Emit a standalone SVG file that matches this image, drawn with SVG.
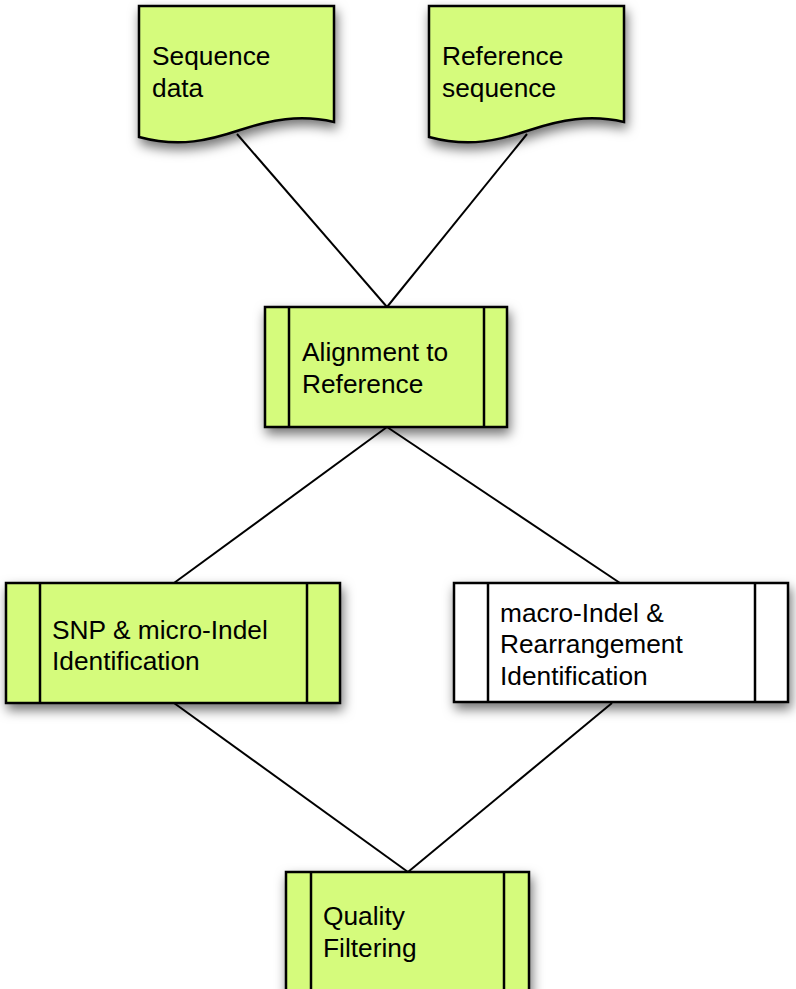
<svg xmlns="http://www.w3.org/2000/svg" width="796" height="989" viewBox="0 0 796 989">
<defs>
<filter id="sh" x="-20%" y="-20%" width="140%" height="150%">
<feDropShadow dx="2" dy="6" stdDeviation="6" flood-color="#000" flood-opacity="0.55"/>
</filter>
</defs>
<style>
.box{fill:#d5fb7c;stroke:#000;stroke-width:2.5;filter:url(#sh)}
.wbox{fill:#fff;stroke:#000;stroke-width:2.5;filter:url(#sh)}
.bar{stroke:#000;stroke-width:2.5;fill:none}
.c{stroke:#000;stroke-width:2;fill:none}
text{font-family:"Liberation Sans",Arial,sans-serif;font-size:26.3px;fill:#000}
</style>
<rect width="796" height="989" fill="#fff"/>
<g id="connectors">
<line class="c" x1="237" y1="134" x2="387" y2="307"/>
<line class="c" x1="527" y1="134" x2="387" y2="307"/>
<line class="c" x1="387" y1="427" x2="174" y2="583"/>
<line class="c" x1="387" y1="427" x2="620" y2="583"/>
<line class="c" x1="174" y1="703" x2="408" y2="872"/>
<line class="c" x1="612" y1="703" x2="408" y2="872"/>
</g>
<g id="seqdata">
<path class="box" d="M139,6 H334 V122 C300,114 270,120 240,130 C210,140 180,148 139,137 Z"/>
<text x="152" y="65">Sequence</text>
<text x="152" y="97">data</text>
</g>
<g id="refseq">
<path class="box" d="M429,6 H624 V122 C590,114 560,120 530,130 C500,140 470,148 429,137 Z"/>
<text x="442" y="65">Reference</text>
<text x="442" y="97">sequence</text>
</g>
<g id="align">
<rect class="box" x="265" y="307" width="242" height="120"/>
<line class="bar" x1="289" y1="307" x2="289" y2="427"/>
<line class="bar" x1="484" y1="307" x2="484" y2="427"/>
<text x="302" y="361">Alignment to</text>
<text x="302" y="393">Reference</text>
</g>
<g id="snp">
<rect class="box" x="6" y="583" width="334" height="120"/>
<line class="bar" x1="40" y1="583" x2="40" y2="703"/>
<line class="bar" x1="307" y1="583" x2="307" y2="703"/>
<text x="52" y="639">SNP &amp; micro-Indel</text>
<text x="52" y="670">Identification</text>
</g>
<g id="macro">
<rect class="wbox" x="454" y="583" width="334" height="119"/>
<line class="bar" x1="488" y1="583" x2="488" y2="702"/>
<line class="bar" x1="755" y1="583" x2="755" y2="702"/>
<text x="500" y="622">macro-Indel &amp;</text>
<text x="500" y="653">Rearrangement</text>
<text x="500" y="685">Identification</text>
</g>
<g id="quality">
<rect class="box" x="286" y="872" width="243" height="140"/>
<line class="bar" x1="311" y1="872" x2="311" y2="1000"/>
<line class="bar" x1="504" y1="872" x2="504" y2="1000"/>
<text x="323" y="925">Quality</text>
<text x="323" y="957">Filtering</text>
</g>
</svg>
